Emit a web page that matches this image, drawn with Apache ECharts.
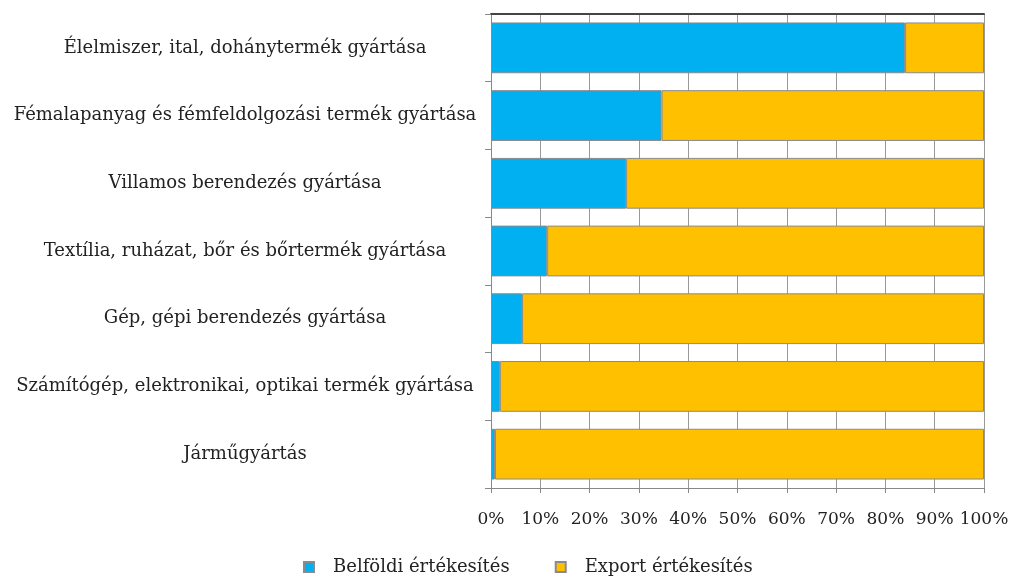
<!DOCTYPE html>
<html>
<head>
<meta charset="utf-8">
<script src="https://cdn.jsdelivr.net/npm/echarts@6/dist/echarts.min.js"></script>
<style>
html, body { margin: 0; padding: 0; background: #fff; }
#chart { width: 1013px; height: 583px; }
</style>
</head>
<body>
<div id="chart"></div>
<script>
var categories = [
    'Élelmiszer, ital, dohánytermék gyártása',
    'Fémalapanyag és fémfeldolgozási termék gyártása',
    'Villamos berendezés gyártása',
    'Textília, ruházat, bőr és bőrtermék gyártása',
    'Gép, gépi berendezés gyártása',
    'Számítógép, elektronikai, optikai termék gyártása',
    'Járműgyártás'
];
var belfoldi = [84.0, 34.6, 27.4, 11.4, 6.3, 1.8, 0.8];
var exportData = [16.0, 65.4, 72.6, 88.6, 93.7, 98.2, 99.2];

var font = '"DejaVu Serif", "Liberation Serif", serif';

var chart = echarts.init(document.getElementById('chart'));

var option = {
    animation: false,
    textStyle: { fontFamily: font },
    grid: { left: 491, right: 29, top: 14, bottom: 95, containLabel: false },
    legend: {
        bottom: 2,
        left: 298,
        itemWidth: 10,
        itemHeight: 10,
        itemGap: 45,
        icon: 'rect',
        textStyle: { fontFamily: font, fontSize: 18, color: '#222', padding: [0, 0, 0, 14] },
        data: ['Belföldi értékesítés', 'Export értékesítés']
    },
    xAxis: [
        {
            type: 'value',
            min: 0,
            max: 100,
            interval: 10,
            axisLine: { show: true, lineStyle: { color: '#888', width: 1 } },
            axisTick: { show: true, length: 5, lineStyle: { color: '#888' } },
            splitLine: { show: true, lineStyle: { color: '#999', width: 1 } },
            axisLabel: {
                margin: 23,
                fontFamily: font,
                fontSize: 17,
                color: '#222',
                formatter: '{value}%'
            }
        },
        {
            type: 'value',
            position: 'top',
            min: 0,
            max: 100,
            axisLine: { show: true, lineStyle: { color: '#444', width: 2 } },
            axisTick: { show: false },
            axisLabel: { show: false },
            splitLine: { show: false }
        }
    ],
    yAxis: {
        type: 'category',
        inverse: true,
        data: categories,
        axisLine: { show: true, lineStyle: { color: '#888' } },
        axisTick: { show: true, length: 6, lineStyle: { color: '#888' } },
        axisLabel: {
            margin: 246,
            align: 'center',
            fontFamily: font,
            fontSize: 18,
            color: '#222'
        }
    },
    series: [
        {
            name: 'Belföldi értékesítés',
            type: 'bar',
            stack: 'total',
            barCategoryGap: '25%',
            itemStyle: { color: '#00B0F0', borderColor: '#8a8a8a', borderWidth: 1 },
            data: belfoldi
        },
        {
            name: 'Export értékesítés',
            type: 'bar',
            stack: 'total',
            barCategoryGap: '25%',
            itemStyle: { color: '#FFC000', borderColor: '#8a8a8a', borderWidth: 1 },
            data: exportData
        }
    ]
};

chart.setOption(option);
</script>
</body>
</html>
